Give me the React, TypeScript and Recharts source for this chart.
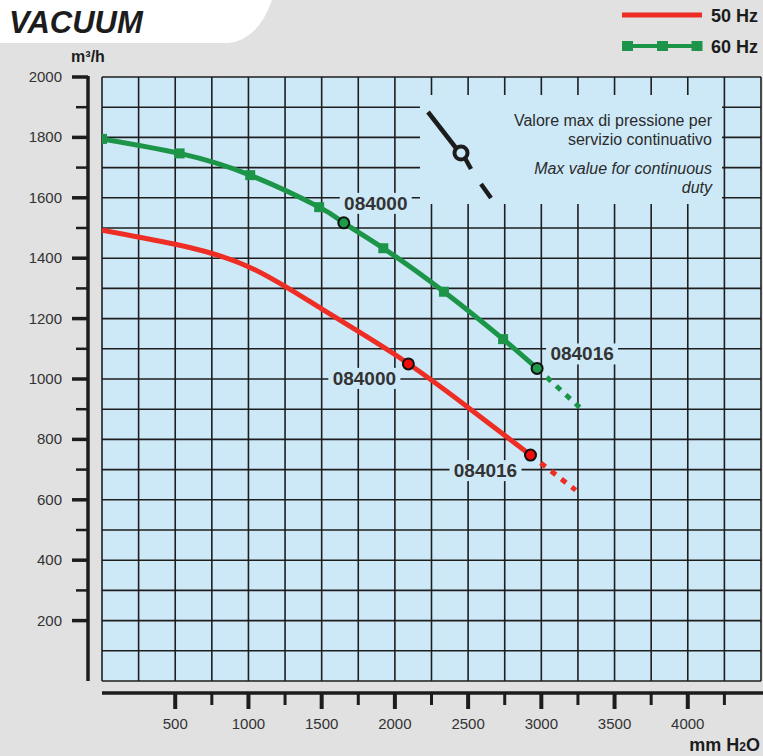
import React from "react";
import { ComposedChart, Line, Scatter, XAxis, YAxis, CartesianGrid } from "recharts";

// 50 Hz curve (mm H2O -> m3/h)
const pressure50 = [0, 500, 1000, 1500, 2000, 2500, 2926];
const flow50 = [1493, 1446, 1372, 1232, 1081, 906, 748];
const pressure50Ext = [2926, 3235];
const flow50Ext = [748, 632];

// 60 Hz curve
const pressure60 = [0, 530, 1012, 1483, 1651, 1921, 2335, 2739, 2971];
const flow60 = [1795, 1747, 1675, 1569, 1517, 1433, 1289, 1132, 1035];
const pressure60Ext = [2971, 3262];
const flow60Ext = [1035, 906];

// model points
const models = ["084000", "084016"];
const modelPressure50 = [2092, 2926];
const modelFlow50 = [1050, 748];
const modelPressure60 = [1651, 2971];
const modelFlow60 = [1517, 1035];

const xTicks = [0, 250, 500, 750, 1000, 1250, 1500, 1750, 2000, 2250, 2500, 2750, 3000, 3250, 3500, 3750, 4000, 4250, 4500];
const yTicks = [0, 100, 200, 300, 400, 500, 600, 700, 800, 900, 1000, 1100, 1200, 1300, 1400, 1500, 1600, 1700, 1800, 1900, 2000];

const W = 763;
const H = 756;
const PLOT_W = 659;
const PLOT_H = 604;
const RED = "#ee2d24";
const GREEN = "#1c9548";
const BLUE = "#cde9f8";
const INK = "#1c1c1c";
const FONT = "'Liberation Sans', Arial, sans-serif";

const toRows = (xs: number[], ys: number[]) => xs.map((x, i) => ({ x, y: ys[i] }));
const line50 = toRows(pressure50, flow50);
const ext50 = toRows(pressure50Ext, flow50Ext);
const line60 = toRows(pressure60, flow60);
const ext60 = toRows(pressure60Ext, flow60Ext);
const pts50 = modelPressure50.map((x, i) => ({ x, y: modelFlow50[i], model: models[i] }));
const pts60 = modelPressure60.map((x, i) => ({ x, y: modelFlow60[i], model: models[i] }));

const labelPos50 = [{ dx: -44, dy: 21 }, { dx: -45, dy: 22 }];
const labelPos60 = [{ dx: 32, dy: -13 }, { dx: 45, dy: -8 }];

function YTick(props: any) {
  const { x, y, payload } = props;
  const v = payload.value;
  const ax = x - 14;
  return (
    <g>
      {v === 2000 && <line x1={ax} y1={y - 1} x2={ax} y2={y + PLOT_H} stroke={INK} strokeWidth={3.5} />}
      {v > 0 && v % 200 === 0 && (
        <>
          <line x1={ax - 16} y1={y} x2={ax} y2={y} stroke={INK} strokeWidth={3.5} />
          <text x={ax - 26} y={y + 5} textAnchor="end" fontSize={15} fill="#333" fontFamily={FONT}>{v}</text>
        </>
      )}
      {v > 100 && v % 200 === 100 && <line x1={ax - 12} y1={y} x2={ax} y2={y} stroke={INK} strokeWidth={2.5} />}
    </g>
  );
}

function XTick(props: any) {
  const { x, y, payload } = props;
  const v = payload.value;
  const ay = y + 12;
  return (
    <g>
      {v === 0 && <line x1={x} y1={ay} x2={x + PLOT_W + 4} y2={ay} stroke={INK} strokeWidth={3.5} />}
      {v > 0 && v < 4500 && v % 500 === 0 && (
        <>
          <line x1={x} y1={ay} x2={x} y2={ay + 16} stroke={INK} strokeWidth={4} />
          <text x={x} y={ay + 36} textAnchor="middle" fontSize={15} fill="#333" fontFamily={FONT}>{v}</text>
        </>
      )}
      {v > 250 && v % 500 === 250 && <line x1={x} y1={ay} x2={x} y2={ay + 12} stroke={INK} strokeWidth={3} />}
    </g>
  );
}

function modelShape(fill: string, pos: { dx: number; dy: number }[], pts: { model: string }[]) {
  return (p: any) => {
    const i = pts.findIndex((d) => d.model === p.payload.model);
    const o = pos[i] || { dx: 0, dy: 0 };
    const tx = p.cx + o.dx;
    const ty = p.cy + o.dy;
    return (
      <g>
        <rect x={tx - 36} y={ty - 17} width={72} height={21} fill={BLUE} />
        <text x={tx} y={ty} textAnchor="middle" fontSize={19} fontWeight="bold" fill="#333" fontFamily={FONT}>
          {p.payload.model}
        </text>
        <circle cx={p.cx} cy={p.cy} r={5.5} fill={fill} stroke="#111" strokeWidth={2} />
      </g>
    );
  };
}

function GreenDot(props: any) {
  const { cx, cy, payload } = props;
  if (modelPressure60.includes(payload.x)) return <g />;
  return <rect x={cx - 5} y={cy - 5} width={10} height={10} fill={GREEN} />;
}

export default function App() {
  return (
    <div style={{ position: "absolute", left: 0, top: 0, width: W, height: H, background: "#e1e1e1", fontFamily: FONT }}>
      <ComposedChart width={W} height={H} margin={{ top: 77, right: 2, bottom: 15, left: 12 }}>
        <CartesianGrid stroke="#1e1e1e" strokeWidth={1.6} fill={BLUE} fillOpacity={1} />
        <XAxis type="number" dataKey="x" domain={[0, 4500]} ticks={xTicks} interval={0} height={60}
          tickSize={0} tickMargin={0} tickLine={false} axisLine={false} tick={<XTick />} allowDataOverflow />
        <YAxis type="number" dataKey="y" domain={[0, 2000]} ticks={yTicks} interval={0} width={90}
          tickSize={0} tickMargin={0} tickLine={false} axisLine={false} tick={<YTick />} allowDataOverflow />
        <Line data={ext50} dataKey="y" type="linear" stroke={RED} strokeWidth={5} strokeDasharray="6 7" dot={false} isAnimationActive={false} />
        <Line data={ext60} dataKey="y" type="linear" stroke={GREEN} strokeWidth={5} strokeDasharray="6 7" dot={false} isAnimationActive={false} />
        <Line data={line50} dataKey="y" type="natural" stroke={RED} strokeWidth={5} dot={false} isAnimationActive={false} />
        <Line data={line60} dataKey="y" type="natural" stroke={GREEN} strokeWidth={5} dot={<GreenDot />} isAnimationActive={false} />
        <Scatter data={pts50} dataKey="y" shape={modelShape("#f20d0d", labelPos50, pts50)} isAnimationActive={false} />
        <Scatter data={pts60} dataKey="y" shape={modelShape("#1f9a49", labelPos60, pts60)} isAnimationActive={false} />
      </ComposedChart>
      <svg width={W} height={H} style={{ position: "absolute", left: 0, top: 0, pointerEvents: "none" }}>
        <path d="M0,0 L272,0 Q258,40 228,43 L0,43 Z" fill="#fff" />
        <text x={9} y={33} fontSize={31} fontWeight="bold" fontStyle="italic" fill={INK} fontFamily={FONT}>VACUUM</text>
        <text x={88} y={62} textAnchor="middle" fontSize={16} fontWeight="bold" fill={INK} fontFamily={FONT}>m³/h</text>
        <text x={760} y={751} textAnchor="end" fontSize={18} fontWeight="bold" fill={INK} fontFamily={FONT}>
          mm H<tspan fontSize={12}>2</tspan>O
        </text>

        <line x1={622} y1={15} x2={702} y2={15} stroke={RED} strokeWidth={5} />
        <text x={711} y={22} fontSize={18} fontWeight="bold" fill={INK} fontFamily={FONT}>50 Hz</text>
        <line x1={622} y1={46} x2={702} y2={46} stroke={GREEN} strokeWidth={4} />
        {[627.5, 662.5, 697].map((cx) => (
          <rect key={cx} x={cx - 5.5} y={41} width={11} height={10} fill={GREEN} />
        ))}
        <text x={711} y={53} fontSize={18} fontWeight="bold" fill={INK} fontFamily={FONT}>60 Hz</text>

        <rect x={420} y={95} width={302} height={109} fill={BLUE} />
        <line x1={428} y1={112} x2={456} y2={148} stroke={INK} strokeWidth={4.5} />
        <circle cx={461} cy={153} r={6.5} fill={BLUE} stroke={INK} strokeWidth={4} />
        <line x1={465.5} y1={159} x2={471} y2={169} stroke={INK} strokeWidth={4.5} />
        <line x1={481} y1={184} x2={491} y2={198} stroke={INK} strokeWidth={4.5} />
        <g fontSize={16} fill="#2b2b2b" fontFamily={FONT} textAnchor="end">
          <text x={712} y={126}>Valore max di pressione per</text>
          <text x={712} y={145}>servizio continuativo</text>
          <text x={712} y={174} fontStyle="italic">Max value for continuous</text>
          <text x={712} y={193} fontStyle="italic">duty</text>
        </g>
      </svg>
    </div>
  );
}
